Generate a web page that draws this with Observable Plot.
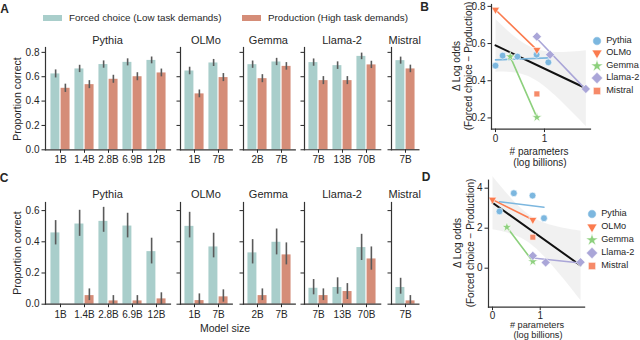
<!DOCTYPE html>
<html><head><meta charset="utf-8">
<script src="https://cdn.jsdelivr.net/npm/d3@7"></script>
<script src="https://cdn.jsdelivr.net/npm/@observablehq/plot@0.6"></script>
<style>
html,body{margin:0;padding:0;background:#fff;}
#root{position:relative;width:640px;height:340px;overflow:hidden;background:#fff;font-family:'Liberation Sans',Arial,Helvetica,sans-serif;color:#262626;}
.abs{position:absolute;white-space:nowrap;line-height:1;}
</style></head><body><div id="root"></div>
<script>
// ---------------- DATA ----------------
const families = ["Pythia", "OLMo", "Gemma", "Llama-2", "Mistral"];
const family = ["Pythia","Pythia","Pythia","Pythia","Pythia","OLMo","OLMo","Gemma","Gemma","Llama-2","Llama-2","Llama-2","Mistral"];
const modelSize = ["1B","1.4B","2.8B","6.9B","12B","1B","7B","2B","7B","7B","13B","70B","7B"];
const logParams = [0, 0.146, 0.447, 0.839, 1.079, 0, 0.845, 0.301, 0.845, 0.845, 1.114, 1.845, 0.845];

// Panel A: proportion correct (mean, CI half-width)
const fcA      = [0.623,0.664,0.700,0.718,0.734, 0.647,0.713, 0.699,0.721, 0.716,0.691,0.767, 0.732];
const fcErrA   = [0.033,0.030,0.030,0.029,0.028, 0.031,0.029, 0.030,0.030, 0.030,0.031,0.027, 0.029];
const prodA    = [0.505,0.535,0.579,0.600,0.631, 0.459,0.593, 0.584,0.685, 0.568,0.568,0.697, 0.664];
const prodErrA = [0.034,0.033,0.033,0.033,0.032, 0.032,0.033, 0.033,0.031, 0.033,0.033,0.030, 0.031];

// Panel C: proportion correct (mean, CI low, CI high)
const fcC     = [0.457,0.514,0.531,0.501,0.337, 0.499,0.367, 0.329,0.397, 0.102,0.107,0.363, 0.107];
const fcLoC   = [0.380,0.435,0.461,0.425,0.258, 0.425,0.297, 0.258,0.316, 0.060,0.064,0.280, 0.064];
const fcHiC   = [0.536,0.602,0.621,0.583,0.423, 0.589,0.455, 0.414,0.482, 0.158,0.169,0.448, 0.166];
const prodC   = [0.000,0.055,0.021,0.021,0.034, 0.023,0.047, 0.055,0.316, 0.055,0.081,0.290, 0.021];
const prodLoC = [0.000,0.023,0.000,0.000,0.000, 0.000,0.013, 0.023,0.252, 0.023,0.030,0.218, 0.000];
const prodHiC = [0.000,0.098,0.055,0.055,0.073, 0.066,0.092, 0.098,0.393, 0.098,0.132,0.367, 0.055];

// Panels B and D: delta log odds
const dLogOddsB = [0.481,0.535,0.530,0.540,0.499, 0.782,0.566, 0.530,0.203, 0.637,0.540,0.356, 0.329];
const dLogOddsD = [null,2.84,3.75,3.63,2.50, 3.43,2.42, 2.05,0.335, 0.62,0.285,0.30, 1.55];

const legendLabels = ["Forced choice (Low task demands)", "Production (High task demands)"];
const famColors = ["#7cb7df", "#fb7b4e", "#8dd07d", "#aaa6d8", "#f68a69"];

// ---------------- STYLE / LAYOUT ----------------
const TEAL = "#a9cecb", RED = "#d58d78", ERR = "#5a5a5a", SPINE = "#333333";
const FONT = "'Liberation Sans', Arial, Helvetica, sans-serif";
const root = document.getElementById("root");

function put(el, left, top) {
  el.style.position = "absolute";
  el.style.left = left + "px";
  el.style.top = top + "px";
  root.appendChild(el);
}
function txt(s, x, y, o = {}) {
  const d = document.createElement("div");
  d.className = "abs";
  d.textContent = s;
  d.style.fontSize = (o.size || 10) + "px";
  if (o.weight) d.style.fontWeight = o.weight;
  d.style.left = x + "px";
  d.style.top = y + "px";
  const ax = o.align === "left" ? "0" : "-50%";
  d.style.transform = `translate(${ax},-50%)` + (o.rotate ? ` rotate(${o.rotate}deg)` : "");
  if (o.lh) { d.style.lineHeight = o.lh + "px"; d.style.whiteSpace = "pre"; d.style.textAlign = "center"; }
  root.appendChild(d);
  return d;
}

const plotStyle = {fontFamily: FONT, fontSize: "10px", color: "#262626", background: "transparent", overflow: "visible"};

// ---------------- BAR PANELS (A, C) ----------------
const STEP = 24.4, OUT = 1.5;
const panelLeft = {"Pythia": 45, "OLMo": 180, "Gemma": 242.5, "Llama-2": 304, "Mistral": 391};

const rowCfg = {
  A: {top: 37, height: 133, mt: 10, mb: 20.7, domain: [0, 0.84], ticks: [0, 0.2, 0.4, 0.6, 0.8], titleY: 40,
      get: i => ({fc: fcA[i], fcLo: fcA[i] - fcErrA[i], fcHi: fcA[i] + fcErrA[i], prod: prodA[i], prodLo: prodA[i] - prodErrA[i], prodHi: prodA[i] + prodErrA[i]})},
  C: {top: 192, height: 131.7, mt: 10, mb: 20, domain: [0, 0.652], ticks: [0, 0.2, 0.4, 0.6], titleY: 194,
      get: i => ({fc: fcC[i], fcLo: fcLoC[i], fcHi: fcHiC[i], prod: prodC[i], prodLo: prodLoC[i], prodHi: prodHiC[i]})}
};

function barPanel(fam, rowKey) {
  const cfg = rowCfg[rowKey];
  const rows = family.map((f, i) => f === fam ? {size: modelSize[i], ...cfg.get(i)} : null).filter(d => d);
  const n = rows.length;
  const first = fam === "Pythia";
  const ml = first ? 45 : 6, mr = 2;
  const innerW = n * STEP + 2 * OUT;
  const plot = Plot.plot({
    width: ml + innerW + mr, height: cfg.height,
    marginLeft: ml, marginRight: mr, marginTop: cfg.mt, marginBottom: cfg.mb,
    style: plotStyle,
    x: {domain: rows.map(d => d.size), paddingInner: 0, paddingOuter: OUT / STEP, tickSize: 3.5, tickPadding: 3, label: null},
    y: {domain: cfg.domain, ticks: cfg.ticks, tickSize: 3.5, tickPadding: 2.5, tickFormat: first ? ".1f" : () => "", label: null},
    marks: [
      Plot.barY(rows, {x: "size", y: "fc", fill: TEAL, insetLeft: 0.1 * STEP, insetRight: 0.5 * STEP + 0.4}),
      Plot.barY(rows, {x: "size", y: "prod", fill: RED, insetLeft: 0.5 * STEP + 0.4, insetRight: 0.1 * STEP}),
      Plot.ruleX(rows.filter(d => d.fcHi > d.fcLo), {x: "size", y1: "fcLo", y2: "fcHi", dx: -0.2 * STEP, stroke: ERR, strokeWidth: 1.6}),
      Plot.ruleX(rows.filter(d => d.prodHi > d.prodLo), {x: "size", y1: "prodLo", y2: "prodHi", dx: 0.2 * STEP, stroke: ERR, strokeWidth: 1.6}),
      Plot.frame({anchor: "left", stroke: SPINE, strokeWidth: 1.2}),
      Plot.frame({anchor: "bottom", stroke: SPINE, strokeWidth: 1.2})
    ]
  });
  put(plot, panelLeft[fam] - ml, cfg.top);
  txt(fam, panelLeft[fam] + innerW / 2, cfg.titleY, {size: 11});
}

for (const r of ["A", "C"]) for (const f of families) barPanel(f, r);

// y labels, x label
txt("Proportion correct", 16.5, 99, {size: 10.5, rotate: -90});
txt("Proportion correct", 16.5, 253, {size: 10.5, rotate: -90});
txt("Model size", 225, 328, {size: 10.5});

// Top legend
{
  const sw1 = document.createElement("div"); sw1.style.width = "19px"; sw1.style.height = "6px"; sw1.style.background = TEAL;
  put(sw1, 43, 14.5);
  txt(legendLabels[0], 69, 17.5, {align: "left", size: 9.8});
  const sw2 = document.createElement("div"); sw2.style.width = "19px"; sw2.style.height = "6px"; sw2.style.background = RED;
  put(sw2, 241.5, 14.5);
  txt(legendLabels[1], 268, 17.5, {align: "left", size: 9.8});
}

// ---------------- SCATTER PANELS (B, D) ----------------
const triDown = {draw(ctx, size) {
  const y = -Math.sqrt(size / (Math.sqrt(3) * 3));
  ctx.moveTo(0, -y * 2);
  ctx.lineTo(-Math.sqrt(3) * y, y);
  ctx.lineTo(Math.sqrt(3) * y, y);
  ctx.closePath();
}};
const famSymbols = [d3.symbolCircle, triDown, d3.symbolStar, d3.symbolDiamond2, d3.symbolSquare];
const famR = [3.4, 3.0, 3.1, 4.1, 3.3];

function scatterPanel(vals, cfg) {
  const pts = family.map((f, i) => ({fam: f, x: logParams[i], y: vals[i]})).filter(d => d.y != null);
  const iw = cfg.innerW, ih = cfg.innerH;
  const marks = [
    Plot.linearRegressionY(pts, {x: "x", y: "y", stroke: "#111", strokeWidth: 2, fill: "#999", fillOpacity: 0.14, ci: 0.95})
  ];
  families.forEach((f, k) => {
    const sub = pts.filter(d => d.fam === f);
    if (sub.length >= 2) marks.push(Plot.linearRegressionY(sub, {x: "x", y: "y", stroke: famColors[k], strokeWidth: 1.6, ci: 0}));
  });
  families.forEach((f, k) => {
    const sub = pts.filter(d => d.fam === f);
    marks.push(Plot.dot(sub, {x: "x", y: "y", symbol: famSymbols[k], r: famR[k], fill: famColors[k], stroke: "white", strokeWidth: 0.6}));
  });
  marks.push(Plot.frame({anchor: "left", stroke: SPINE, strokeWidth: 1.2}));
  marks.push(Plot.frame({anchor: "bottom", stroke: SPINE, strokeWidth: 1.2}));
  const plot = Plot.plot({
    width: cfg.ml + iw + 2, height: cfg.mt + ih + 13,
    marginLeft: cfg.ml, marginRight: 2, marginTop: cfg.mt, marginBottom: 13,
    style: plotStyle,
    x: {domain: cfg.xDomain, ticks: [0, 1], tickFormat: "d", tickSize: 3.5, tickPadding: cfg.xPad, label: null},
    y: {domain: cfg.yDomain, ticks: cfg.yTicks, tickFormat: cfg.yFormat, tickSize: 3.5, tickPadding: 2.5, label: null},
    marks
  });
  put(plot, cfg.axisX - cfg.ml, cfg.top);
}

scatterPanel(dLogOddsB, {axisX: 491, ml: 24, top: 0, mt: 4, innerW: 99, innerH: 124.6, xPad: 2,
  xDomain: [-0.082, 1.94], yDomain: [0.14, 0.81], yTicks: [0.2, 0.4, 0.6, 0.8], yFormat: ".1f"});
scatterPanel(dLogOddsD, {axisX: 488.3, ml: 18, top: 170, mt: 9.7, innerW: 96.1, innerH: 127, xPad: 1,
  xDomain: [-0.084, 1.93], yDomain: [-1.95, 4.4], yTicks: [0, 2, 4], yFormat: "d"});

// axis labels for B, D
txt("\u0394 Log odds\n(Forced choice \u2212 Production)", 463, 66, {size: 10, rotate: -90, lh: 12});
txt("\u0394 Log odds\n(Forced choice \u2212 Production)", 464, 243, {size: 10, rotate: -90, lh: 12.5});
txt("# parameters", 539, 151.7, {size: 10});
txt("(log billions)", 540, 163, {size: 10});
txt("# parameters", 537, 326.3, {size: 9.2});
txt("(log billions)", 538, 335.5, {size: 9.2});

// scatter legends
function scatterLegend(mx, y0, dy) {
  families.forEach((f, k) => {
    const y = y0 + k * dy;
    const svg = d3.create("svg").attr("width", 14).attr("height", 14).style("overflow", "visible");
    const rr = famR[k] * 1.25;
    svg.append("path").attr("transform", "translate(7,7)")
      .attr("d", d3.symbol(famSymbols[k], Math.PI * rr * rr)())
      .attr("fill", famColors[k]).attr("stroke", "white").attr("stroke-width", 0.6);
    put(svg.node(), mx - 7, y - 7);
    txt(f, mx + 9.5, y, {align: "left", size: 9.2});
  });
}
scatterLegend(596.7, 40.5, 12.6);
scatterLegend(591.7, 213.5, 13);

// panel letters
txt("A", 4.5, 9, {size: 12, weight: 700});
txt("B", 424.5, 6.5, {size: 12, weight: 700});
txt("C", 4, 178, {size: 12, weight: 700});
txt("D", 426, 177, {size: 12, weight: 700});
</script></body></html>
